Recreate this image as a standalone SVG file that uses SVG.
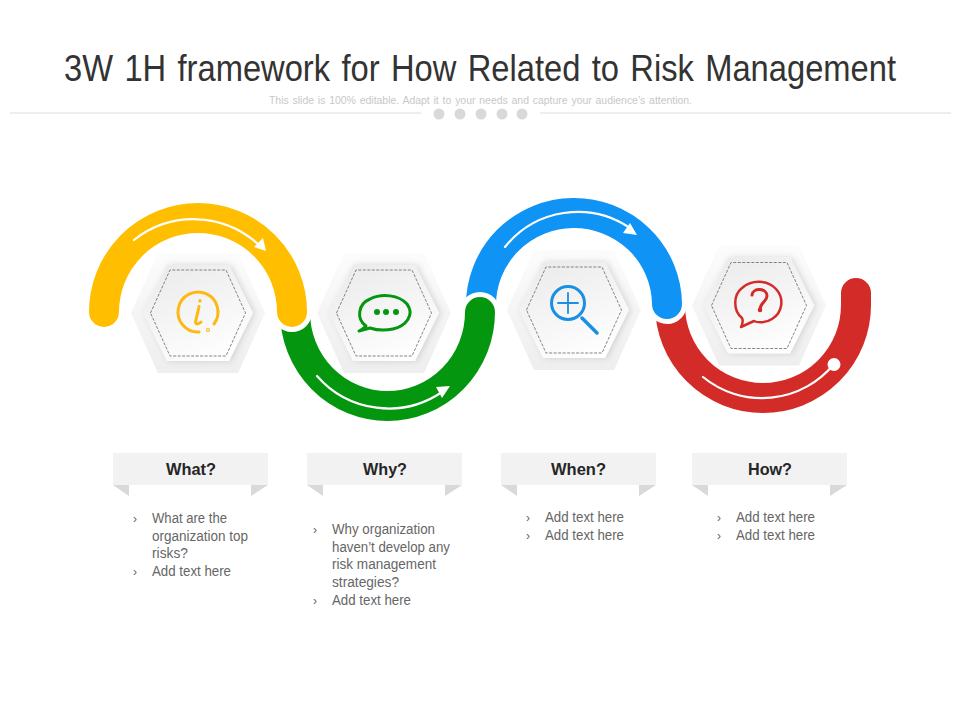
<svg xmlns="http://www.w3.org/2000/svg" width="960" height="720" viewBox="0 0 960 720">
<style>
text{font-family:"Liberation Sans",Arial,sans-serif}
.title{font-size:36px;fill:#333;text-anchor:middle;word-spacing:2.500px}
.sub{font-size:11px;fill:#c8c8c8;text-anchor:middle;word-spacing:1px}
.head{font-size:17px;font-weight:bold;fill:#262626;text-anchor:middle}
.body{font-size:14px;fill:#666}
.bul{font-size:12px;fill:#666}
.arc{fill:none;stroke-width:30;stroke-linecap:round}
.halo{fill:none;stroke:#fff;stroke-width:40;stroke-linecap:round}
.wl{fill:none;stroke:#fff;stroke-width:2.200;stroke-linecap:round}
.rib{fill:#f2f2f2}
.fold{fill:#d9d9d9}
.ic{fill:none;stroke-width:3;stroke-linecap:round;stroke-linejoin:round}
</style>
<defs>
<linearGradient id="g1" x1="0" y1="0" x2="0" y2="1"><stop offset="0" stop-color="#fcfcfc"/><stop offset="1" stop-color="#eeeeee"/></linearGradient>
<linearGradient id="g2" x1="0.2" y1="0" x2="0.7" y2="1"><stop offset="0" stop-color="#ebebeb"/><stop offset="1" stop-color="#ffffff"/></linearGradient>
<filter id="sh" x="-20%" y="-20%" width="140%" height="140%"><feDropShadow dx="2" dy="0" stdDeviation="3" flood-color="#000" flood-opacity="0.14"/></filter>
<g id="hex">
<polygon points="-67,0 -40,-60 40,-60 67,0 40,60 -40,60" fill="url(#g1)"/>
<polygon points="-55,0 -31,-48 31,-48 55,0 31,48 -31,48" fill="url(#g2)" filter="url(#sh)"/>
<polygon points="-47.500,0 -28,-43 28,-43 47.500,0 28,43 -28,43" fill="none" stroke="#666" stroke-width="0.800" stroke-dasharray="3 1.500"/>
</g>
</defs>

<text class="title" x="480" y="81" textLength="832" lengthAdjust="spacingAndGlyphs">3W 1H framework for How Related to Risk Management</text>
<text class="sub" x="480.500" y="104" textLength="423" lengthAdjust="spacingAndGlyphs">This slide is 100% editable. Adapt it to your needs and capture your audience’s attention.</text>
<g id="divider">
<line x1="10" y1="113" x2="421" y2="113" stroke="#dcdcdc"/>
<line x1="540" y1="113" x2="951" y2="113" stroke="#dcdcdc"/>
<g fill="#d9d9d9"><circle cx="439" cy="114" r="5.500"/><circle cx="460" cy="114" r="5.500"/><circle cx="481" cy="114" r="5.500"/><circle cx="502" cy="114" r="5.500"/><circle cx="522" cy="114" r="5.500"/></g>
</g>

<g id="connectors">
<path class="arc" stroke="#d32b27" d="M670 305A93 93 0 0 0 856 305V293"/>
<path class="halo" d="M667 304A93 92 0 0 0 481 306" />
<path class="arc" stroke="#0f93f5" d="M667 304A93 92 0 0 0 481 306"/>
<path class="halo" d="M480 312A92.500 92.500 0 0 1 295 312"/>
<path class="arc" stroke="#05960f" d="M480 312A92.500 94 0 0 1 295 312"/>
<path class="halo" d="M292 312A94 94 0 0 0 104 312"/>
<path class="arc" stroke="#ffbf00" d="M104 312A94 94 0 0 1 292 312"/>
<path class="wl" d="M134 240A96 96 0 0 1 258 244"/>
<polygon fill="#fff" points="266,251 254,247 263,238"/>
<path class="wl" d="M317 376A95 95 0 0 0 442 392"/>
<polygon fill="#fff" points="450,386 436,387 442,398"/>
<path class="wl" d="M505 247A93 93 0 0 1 630 228"/>
<polygon fill="#fff" points="637,235 623,233 630,223"/>
<path class="wl" d="M703 377A93 93 0 0 0 834 364"/>
<circle cx="834" cy="364.500" r="6.500" fill="#fff"/>
</g>

<g id="node-what">
<use href="#hex" x="198" y="313"/>
<g class="ic" stroke="#fdb913">
<path d="M199 332A20 20 0 1 1 214 324"/>
<path d="M200 300.500V301M199 306.500C198 312 196 319 195.500 322C196 325 199 324 201 322"/>
<circle cx="208" cy="330" r="0.600"/>
</g>
<rect class="rib" x="113" y="453" width="155" height="32"/>
<polygon class="fold" points="113,485 129,485 129,496"/>
<polygon class="fold" points="268,485 251,485 251,496"/>
<text class="head" x="191" y="475" textLength="50" lengthAdjust="spacingAndGlyphs">What?</text>
<text class="bul" x="133" y="523">›</text>
<text class="body" x="152" y="523" textLength="75" lengthAdjust="spacingAndGlyphs">What are the</text>
<text class="body" x="152" y="541" textLength="96" lengthAdjust="spacingAndGlyphs">organization top</text>
<text class="body" x="152" y="558" textLength="36" lengthAdjust="spacingAndGlyphs">risks?</text>
<text class="bul" x="133" y="576">›</text>
<text class="body" x="152" y="576" textLength="79" lengthAdjust="spacingAndGlyphs">Add text here</text>
</g>

<g id="node-why">
<use href="#hex" x="384" y="313"/>
<path class="ic" stroke="#05960f" d="M366 326C356 319 358 304 370 299C382 293 399 295 407 304C415 315 406 326 393 329C384 331 376 330 370 328L359 331C363 329 365 327 366 326Z"/>
<g fill="#05960f"><circle cx="377" cy="312" r="3"/><circle cx="386" cy="312" r="3"/><circle cx="396" cy="312" r="3"/></g>
<rect class="rib" x="307" y="453" width="155" height="32"/>
<polygon class="fold" points="307,485 323,485 323,496"/>
<polygon class="fold" points="462,485 445,485 445,496"/>
<text class="head" x="385" y="475" textLength="44" lengthAdjust="spacingAndGlyphs">Why?</text>
<text class="bul" x="313" y="534">›</text>
<text class="body" x="332" y="534" textLength="103" lengthAdjust="spacingAndGlyphs">Why organization</text>
<text class="body" x="332" y="552" textLength="118" lengthAdjust="spacingAndGlyphs">haven’t develop any</text>
<text class="body" x="332" y="569" textLength="104" lengthAdjust="spacingAndGlyphs">risk management</text>
<text class="body" x="332" y="587" textLength="67" lengthAdjust="spacingAndGlyphs">strategies?</text>
<text class="bul" x="313" y="605">›</text>
<text class="body" x="332" y="605" textLength="79" lengthAdjust="spacingAndGlyphs">Add text here</text>
</g>

<g id="node-when">
<use href="#hex" x="574" y="310"/>
<g class="ic" stroke="#1a8fe3">
<circle cx="568" cy="303" r="16.500"/>
<path d="M582 318L597 333" stroke-width="3.500"/>
<path d="M558 303H578M568 293V313" stroke-width="1.800"/>
</g>
<rect class="rib" x="501" y="453" width="155" height="32"/>
<polygon class="fold" points="501,485 517,485 517,496"/>
<polygon class="fold" points="656,485 639,485 639,496"/>
<text class="head" x="578.500" y="475" textLength="55" lengthAdjust="spacingAndGlyphs">When?</text>
<text class="bul" x="526" y="522">›</text>
<text class="body" x="545" y="522" textLength="79" lengthAdjust="spacingAndGlyphs">Add text here</text>
<text class="bul" x="526" y="540">›</text>
<text class="body" x="545" y="540" textLength="79" lengthAdjust="spacingAndGlyphs">Add text here</text>
</g>

<g id="node-how">
<use href="#hex" x="759" y="305.500"/>
<g class="ic" stroke="#d32b27">
<path d="M742 318C733 311 733 295 742 288C752 279 768 280 776 289C785 299 782 313 772 319C766 323 758 323 754 321L741 327C743 323 743 320 742 318Z" stroke-width="2.500"/>
<path d="M752 295C753 287 767 288 767 296C767 302 760 302 760 310"/>
<circle cx="760" cy="310" r="0.800"/>
</g>
<rect class="rib" x="692" y="453" width="155" height="32"/>
<polygon class="fold" points="692,485 708,485 708,496"/>
<polygon class="fold" points="847,485 830,485 830,496"/>
<text class="head" x="770" y="475" textLength="44" lengthAdjust="spacingAndGlyphs">How?</text>
<text class="bul" x="717" y="522">›</text>
<text class="body" x="736" y="522" textLength="79" lengthAdjust="spacingAndGlyphs">Add text here</text>
<text class="bul" x="717" y="540">›</text>
<text class="body" x="736" y="540" textLength="79" lengthAdjust="spacingAndGlyphs">Add text here</text>
</g>
</svg>
